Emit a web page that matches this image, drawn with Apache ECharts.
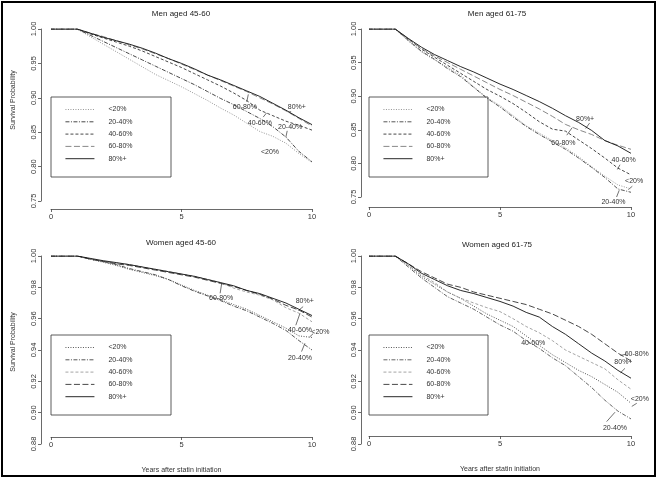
<!DOCTYPE html>
<html>
<head>
<meta charset="utf-8">
<script src="https://cdn.jsdelivr.net/npm/echarts/dist/echarts.min.js"></script>
<style>html,body{margin:0;padding:0;background:#fff}#c{width:659px;height:479px}</style>
</head>
<body>
<div id="c"></div>
<script>
// ---------- data ----------
const years = [0,1,1.5,2,2.5,3,3.5,4,4.5,5,5.5,6,6.5,7,7.5,8,8.5,9,9.5,10];
const groups = ['<20%','20-40%','40-60%','60-80%','80%+'];
const panelTitles = ['Men aged 45-60','Men aged 61-75','Women aged 45-60','Women aged 61-75'];
const xTickLabels = ['0','5','10'];

// Men aged 45-60
const men4560_lt20 = [1,1,0.989,0.978,0.967,0.956,0.945,0.934,0.925,0.916,0.906,0.896,0.885,0.875,0.863,0.851,0.844,0.834,0.819,0.806];
const men4560_2040 = [1,1,0.991,0.982,0.973,0.964,0.955,0.946,0.937,0.928,0.919,0.909,0.899,0.890,0.880,0.870,0.858,0.843,0.822,0.807];
const men4560_4060 = [1,1,0.993,0.987,0.981,0.975,0.968,0.960,0.952,0.944,0.935,0.926,0.917,0.907,0.896,0.882,0.874,0.866,0.860,0.853];
const men4560_6080 = [1,1,0.994,0.989,0.983,0.977,0.971,0.964,0.957,0.949,0.941,0.933,0.925,0.917,0.909,0.900,0.891,0.881,0.870,0.859];
const men4560_80   = [1,1,0.994,0.988,0.983,0.978,0.972,0.965,0.957,0.950,0.942,0.933,0.926,0.918,0.910,0.902,0.892,0.882,0.871,0.861];
// Men aged 61-75
const men6175_lt20 = [1,1,0.982,0.966,0.954,0.943,0.931,0.914,0.898,0.886,0.871,0.856,0.845,0.834,0.823,0.810,0.795,0.781,0.768,0.762];
const men6175_2040 = [1,1,0.983,0.967,0.955,0.941,0.929,0.913,0.897,0.884,0.869,0.855,0.843,0.832,0.821,0.808,0.794,0.779,0.762,0.757];
const men6175_4060 = [1,1,0.985,0.970,0.958,0.946,0.934,0.922,0.910,0.900,0.889,0.876,0.862,0.851,0.848,0.835,0.822,0.808,0.793,0.783];
const men6175_6080 = [1,1,0.985,0.971,0.960,0.950,0.940,0.930,0.920,0.910,0.901,0.891,0.881,0.870,0.858,0.850,0.843,0.834,0.827,0.821];
const men6175_80   = [1,1,0.986,0.973,0.962,0.953,0.944,0.936,0.927,0.918,0.910,0.901,0.892,0.882,0.871,0.861,0.849,0.834,0.826,0.815];
// Women aged 45-60
const women4560_lt20 = [1,1,0.998,0.996,0.994,0.9915,0.9895,0.9875,0.985,0.9815,0.978,0.975,0.972,0.969,0.966,0.962,0.958,0.954,0.949,0.948];
const women4560_2040 = [1,1,0.998,0.9965,0.9945,0.992,0.990,0.988,0.985,0.981,0.9775,0.9745,0.9715,0.968,0.965,0.961,0.957,0.9525,0.946,0.940];
const women4560_4060 = [1,1,0.998,0.9965,0.9955,0.9945,0.993,0.9915,0.990,0.9885,0.987,0.985,0.983,0.9795,0.977,0.975,0.972,0.967,0.9635,0.958];
const women4560_6080 = [1,1,0.998,0.9965,0.995,0.994,0.9925,0.991,0.9895,0.988,0.9865,0.9845,0.9825,0.9805,0.978,0.9755,0.9725,0.9685,0.9655,0.961];
const women4560_80   = [1,1,0.9985,0.997,0.9958,0.9945,0.993,0.9915,0.990,0.9885,0.987,0.985,0.983,0.981,0.978,0.976,0.973,0.970,0.966,0.962];
// Women aged 61-75
const women6175_lt20 = [1,1,0.994,0.987,0.982,0.977,0.973,0.968,0.963,0.959,0.955,0.949,0.943,0.937,0.932,0.927,0.923,0.918,0.913,0.906];
const women6175_2040 = [1,1,0.993,0.986,0.980,0.974,0.970,0.966,0.961,0.956,0.952,0.946,0.941,0.935,0.930,0.923,0.916,0.908,0.901,0.896];
const women6175_4060 = [1,1,0.994,0.988,0.983,0.977,0.973,0.970,0.967,0.9645,0.960,0.955,0.951,0.946,0.940,0.936,0.932,0.928,0.921,0.915];
const women6175_6080 = [1,1,0.995,0.990,0.986,0.982,0.980,0.977,0.975,0.973,0.971,0.969,0.966,0.963,0.959,0.955,0.950,0.944,0.938,0.933];
const women6175_80   = [1,1,0.995,0.989,0.985,0.981,0.978,0.976,0.9735,0.971,0.968,0.964,0.961,0.955,0.950,0.944,0.938,0.933,0.927,0.922];

// curve labels: [text, labelT, labelV, leaderFromT, leaderFromV, leaderToT, leaderToV]
const men4560_notes = [
  ['80%+',  9.42,0.887, 9.2,0.880, 9.1,0.879],
  ['60-80%',7.43,0.887, 7.5,0.894, 7.56,0.905],
  ['40-60%',8.0,0.864,  8.13,0.872, 8.26,0.878],
  ['20-40%',9.16,0.858, 9.05,0.852, 9.0,0.843],
  ['<20%',  8.39,0.821]
];
const men6175_notes = [
  ['80%+',  8.25,0.866, 8.42,0.860, 8.27,0.852],
  ['60-80%',7.42,0.831, 7.55,0.842, 7.75,0.853],
  ['40-60%',9.72,0.805, 9.58,0.798, 9.48,0.791],
  ['<20%',  10.12,0.773, 10.05,0.766, 9.9,0.761],
  ['20-40%',9.33,0.743, 9.45,0.750, 9.55,0.760]
];
const women4560_notes = [
  ['80%+',  9.72,0.9712, 9.66,0.9677, 9.48,0.9652],
  ['60-80%',6.52,0.9730, 6.48,0.9762, 6.54,0.9825],
  ['40-60%',9.54,0.9528, 9.38,0.9558, 9.54,0.9634],
  ['<20%',  10.32,0.9517, 10.05,0.9505, 9.9,0.9482],
  ['20-40%',9.54,0.9347, 9.6,0.9390, 9.73,0.9443]
];
const women6175_notes = [
  ['60-80%',10.22,0.9374, 9.84,0.9374, 9.6,0.9365],
  ['80%+',  9.71,0.9320, 9.77,0.9283, 9.6,0.9255],
  ['40-60%',6.27,0.9443],
  ['<20%',  10.34,0.9090, 10.22,0.9060, 10.03,0.9040],
  ['20-40%',9.39,0.8904, 9.07,0.8943, 9.39,0.9003]
];

// ---------- styling / layout ----------
const FONT = 'Liberation Sans, Arial, sans-serif';
const panelValues = [
  [men4560_lt20, men4560_2040, men4560_4060, men4560_6080, men4560_80],
  [men6175_lt20, men6175_2040, men6175_4060, men6175_6080, men6175_80],
  [women4560_lt20, women4560_2040, women4560_4060, women4560_6080, women4560_80],
  [women6175_lt20, women6175_2040, women6175_4060, women6175_6080, women6175_80]
];
const panelNotes = [men4560_notes, men6175_notes, women4560_notes, women6175_notes];
const dashTypes = [[1,1.5],[4,1.5,1,1.5],[3,2],[6,2.5],'solid'];
const panelColors = [
  ['#8a8a8a','#333','#333','#7a7a7a','#111'],
  ['#8a8a8a','#444','#333','#7a7a7a','#111'],
  ['#444','#444','#9a9a9a','#333','#111'],
  ['#444','#555','#9a9a9a','#333','#111']
];
const grids = [
  {left:51, top:29, width:261, height:172},
  {left:369, top:29, width:262, height:168},
  {left:51, top:256, width:261, height:188},
  {left:369, top:256, width:262, height:188}
];
const xOffsets = [8, 10, -7, -8];
const yOffsets = [10, 8, 10, 8];
const yRanges = [[0.75,1,0.05],[0.75,1,0.05],[0.88,1,0.02],[0.88,1,0.02]];
const legendPos = [[65,106],[383,106],[65,344],[383,344]];
const boxes = [[51,97,120,80],[369,97,119,80],[51,335,120,80],[369,335,119,80]];
const titlePos = [[181,14],[497,14],[181,243],[497,245]];

const xAxes = [], yAxes = [], series = [], legends = [], graphics = [];
for (let p = 0; p < 4; p++) {
  xAxes.push({
    gridIndex:p, type:'value', min:0, max:10, interval:5, offset:xOffsets[p],
    axisLine:{show:true, onZero:false, lineStyle:{color:'#444', width:0.8}},
    axisTick:{show:true, length:3, lineStyle:{color:'#444', width:0.8}},
    axisLabel:{fontSize:7.5, color:'#333', fontFamily:FONT, margin:4,
      formatter:v => xTickLabels[[0,5,10].indexOf(v)] ?? ''},
    splitLine:{show:false},
    name: p >= 2 ? 'Years after statin initiation' : '',
    nameLocation:'middle', nameGap:30,
    nameTextStyle:{fontSize:7, color:'#333', fontFamily:FONT}
  });
  yAxes.push({
    gridIndex:p, type:'value', min:yRanges[p][0], max:yRanges[p][1], interval:yRanges[p][2],
    offset:yOffsets[p],
    axisLine:{show:true, onZero:false, lineStyle:{color:'#444', width:0.8}},
    axisTick:{show:true, length:3, lineStyle:{color:'#444', width:0.8}},
    axisLabel:{fontSize:7.5, color:'#333', fontFamily:FONT, rotate:90, margin:3,
      formatter:v => v.toFixed(2)},
    splitLine:{show:false}
  });
  groups.forEach((g, gi) => {
    const vals = panelValues[p][gi];
    series.push({
      type:'line', name:g + '#' + p, xAxisIndex:p, yAxisIndex:p,
      data: years.map((t, i) => [t, vals[i]]),
      symbol:'none', silent:true, animation:false,
      lineStyle:{width:0.9, color:panelColors[p][gi], type:dashTypes[gi]},
      itemStyle:{color:panelColors[p][gi]}
    });
  });
  const notes = panelNotes[p];
  series.push({
    type:'custom', xAxisIndex:p, yAxisIndex:p, silent:true, animation:false,
    data: notes.map(n => [n[1], n[2], n[3] ?? n[1], n[4] ?? n[2], n[5] ?? n[1], n[6] ?? n[2]]),
    renderItem: (params, api) => {
      const n = notes[params.dataIndex];
      const c = api.coord([api.value(0), api.value(1)]);
      const children = [{
        type:'text',
        style:{text:n[0], x:c[0], y:c[1], textAlign:'center', textVerticalAlign:'middle',
               align:'center', verticalAlign:'middle', fontSize:7, fontFamily:FONT, fill:'#333'}
      }];
      if (n.length > 3) {
        const a = api.coord([api.value(2), api.value(3)]);
        const b = api.coord([api.value(4), api.value(5)]);
        children.push({type:'line', shape:{x1:a[0], y1:a[1], x2:b[0], y2:b[1]},
          style:{stroke:'#333', lineWidth:0.7}});
      }
      return {type:'group', children};
    }
  });
  legends.push({
    left:legendPos[p][0], top:legendPos[p][1], orient:'vertical', padding:0,
    itemWidth:29, itemHeight:8, itemGap:5.3, selectedMode:false,
    itemStyle:{opacity:0, borderWidth:0},
    lineStyle:{width:0.9},
    data: groups.map(g => g + '#' + p),
    formatter: n => n.split('#')[0],
    textStyle:{fontSize:7, color:'#333', fontFamily:FONT, padding:[0,0,0,9]}
  });
  graphics.push({type:'rect', silent:true,
    shape:{x:boxes[p][0], y:boxes[p][1], width:boxes[p][2], height:boxes[p][3]},
    style:{fill:null, stroke:'#333', lineWidth:0.8}});
  graphics.push({type:'text', silent:true, x:titlePos[p][0], y:titlePos[p][1],
    style:{text:panelTitles[p], textAlign:'center', textVerticalAlign:'middle', align:'center', verticalAlign:'middle',
      fontSize:8, fontFamily:FONT, fill:'#222'}});
}
graphics.push({type:'text', silent:true, x:13, y:100, rotation:Math.PI/2,
  style:{text:'Survival Probability', textAlign:'center', textVerticalAlign:'middle', align:'center', verticalAlign:'middle',
    fontSize:7, fontFamily:FONT, fill:'#333'}});
graphics.push({type:'text', silent:true, x:13, y:342, rotation:Math.PI/2,
  style:{text:'Survival Probability', textAlign:'center', textVerticalAlign:'middle', align:'center', verticalAlign:'middle',
    fontSize:7, fontFamily:FONT, fill:'#333'}});
graphics.push({type:'rect', silent:true, shape:{x:2, y:2, width:653, height:474},
  style:{fill:null, stroke:'#000', lineWidth:2}});

const chart = echarts.init(document.getElementById('c'), null, {renderer:'canvas'});
chart.setOption({
  animation:false,
  backgroundColor:'#fff',
  grid: grids.map(g => Object.assign({containLabel:false}, g)),
  xAxis: xAxes, yAxis: yAxes, series, legend: legends, graphic: graphics
});
</script>
</body>
</html>
